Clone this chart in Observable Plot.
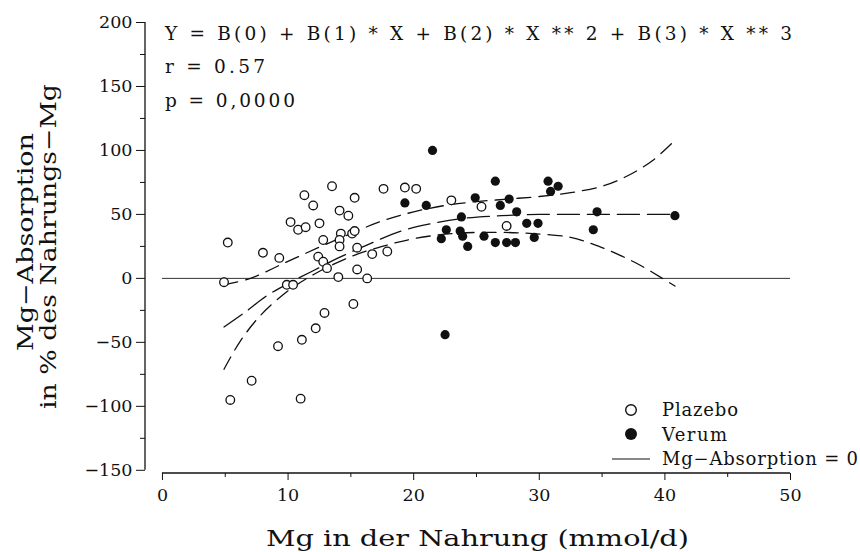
<!DOCTYPE html>
<html>
<head>
<meta charset="utf-8">
<script src="https://cdn.jsdelivr.net/npm/d3@7"></script>
<script src="https://cdn.jsdelivr.net/npm/@observablehq/plot@0.6"></script>
<style>
  html, body { margin: 0; padding: 0; background: #fff; }
  #chart { width: 860px; height: 552px; }
</style>
</head>
<body>
<div id="chart"></div>
<script>
// ---- Data ----
const plazeboX = [4.9, 5.2, 5.4, 7.1, 8.0, 9.2, 9.3, 9.9, 10.4, 10.2, 10.8, 11.4, 11.3, 11.0, 11.1, 12.0, 12.2, 12.5, 12.4, 12.8, 13.1, 12.8, 12.9, 13.5, 14.1, 14.2, 14.1, 14.1, 14.0, 14.8, 15.1, 15.3, 15.3, 15.5, 15.5, 15.2, 16.3, 16.7, 17.9, 17.6, 19.3, 20.2, 23.0, 25.4, 27.4];
const plazeboY = [-3, 28, -95, -80, 20, -53, 16, -5, -5, 44, 38, 40, 65, -94, -48, 57, -39, 43, 17, 13, 8, 30, -27, 72, 53, 35, 30, 25, 1, 49, 35, 37, 63, 24, 7, -20, 0, 19, 21, 70, 71, 70, 61, 56, 41];

const verumX = [19.3, 21.0, 21.5, 22.2, 22.6, 22.5, 23.7, 23.8, 23.9, 24.3, 24.9, 25.6, 26.5, 26.5, 26.9, 27.4, 27.6, 28.1, 28.2, 29.0, 29.6, 29.9, 30.7, 30.9, 31.5, 34.3, 34.6, 40.8];
const verumY = [59, 57, 100, 31, 38, -44, 37, 48, 33, 25, 63, 33, 76, 28, 57, 28, 62, 28, 52, 43, 32, 43, 76, 68, 72, 38, 52, 49];

// cubic fit and its confidence band
const fitX = [4.9, 6.5, 8.4, 10.2, 12.0, 14.0, 16.5, 19.0, 21.5, 24.0, 27.0, 30.0, 33.0, 36.0, 39.0, 40.8];
const fitY = [-38, -27, -13, -3, 6, 16, 27, 37, 43, 47, 49, 50, 50, 50, 50, 50];
const upperX = [4.9, 7.0, 9.7, 12.4, 15.0, 17.5, 20.0, 22.5, 25.0, 27.5, 30.0, 32.5, 35.0, 37.0, 39.0, 40.8];
const upperY = [-5, 0, 12, 24, 35, 45, 52, 57, 60, 62, 64, 67, 72, 80, 92, 108];
const lowerX = [4.9, 6.2, 7.8, 9.7, 11.0, 12.4, 15.0, 17.5, 20.0, 23.0, 26.5, 29.5, 32.5, 35.0, 37.7, 39.8, 40.8];
const lowerY = [-71, -49, -29, -12, -3, 5, 17, 25, 31, 35, 36, 35, 32, 24, 12, 0, -6];

const xMajorTicks = [0, 10, 20, 30, 40, 50];
const xMinorTicks = [5, 15, 25, 35, 45];
const yMajorTicks = [-150, -100, -50, 0, 50, 100, 150, 200];
const yMinorTicks = [-125, -75, -25, 25, 75, 125, 175];

const formulaLines = ["Y = B(0) + B(1) * X + B(2) * X ** 2 + B(3) * X ** 3", "r = 0.57", "p = 0,0000"];
const legendLabels = ["Plazebo", "Verum", "Mg\u2212Absorption = 0"];
const xTitle = "Mg in der Nahrung (mmol/d)";
const yTitleLines = ["Mg\u2212Absorption", "in % des Nahrungs\u2212Mg"];

// ---- Build tables ----
const plazebo = plazeboX.map((x, i) => ({x, y: plazeboY[i]}));
const verum = verumX.map((x, i) => ({x, y: verumY[i]}));
const fit = fitX.map((x, i) => ({x, y: fitY[i]}));
const upper = upperX.map((x, i) => ({x, y: upperY[i]}));
const lower = lowerX.map((x, i) => ({x, y: lowerY[i]}));

const xLo = -1.35, xHi = 50, yLo = -152.5, yHi = 200;
const FONT = "DejaVu Serif";
const INK = "#111";

const chart = Plot.plot({
  width: 860,
  height: 552,
  marginLeft: 145,
  marginRight: 70,
  marginTop: 22,
  marginBottom: 79,
  x: {domain: [xLo, xHi]},
  y: {domain: [yLo, yHi]},
  style: {fontFamily: FONT, background: "#fff", color: INK},
  marks: [
    Plot.axisY({ticks: yMajorTicks, tickSize: 9, tickPadding: 4, fontSize: 17.5, label: null, stroke: INK, tickFormat: d => d < 0 ? "\u2212" + Math.abs(d) : String(d)}),
    Plot.axisY({ticks: yMinorTicks, tickSize: 5, text: null, label: null, stroke: INK}),
    Plot.axisX({ticks: xMajorTicks, tickSize: 7, tickPadding: 8, fontSize: 17.5, label: null, stroke: INK}),
    Plot.axisX({ticks: xMinorTicks, tickSize: 4, text: null, label: null, stroke: INK}),
    Plot.ruleY([0], {x1: 0, x2: 50, stroke: "#333", strokeWidth: 1}),
    Plot.line(upper, {x: "x", y: "y", stroke: INK, strokeWidth: 1.3, strokeDasharray: "14,8", curve: "catmull-rom"}),
    Plot.line(lower, {x: "x", y: "y", stroke: INK, strokeWidth: 1.3, strokeDasharray: "14,8", curve: "catmull-rom"}),
    Plot.line(fit, {x: "x", y: "y", stroke: INK, strokeWidth: 1.3, strokeDasharray: "22,8", curve: "catmull-rom"}),
    Plot.dot(plazebo, {x: "x", y: "y", r: 4.3, stroke: INK, strokeWidth: 1.3, fill: "#fff"}),
    Plot.dot(verum, {x: "x", y: "y", r: 4.6, fill: INK, stroke: "none"})
  ]
});

const svg = d3.select(chart);
const xs = chart.scale("x"), ys = chart.scale("y");
const sx = v => xs.apply(v), sy = v => ys.apply(v);

// axis lines (detached axes, as in the reference)
svg.append("line").attr("x1", sx(xLo)).attr("x2", sx(xLo)).attr("y1", sy(-150)).attr("y2", sy(200))
  .attr("stroke", INK).attr("stroke-width", 1.3);
svg.append("line").attr("x1", sx(0)).attr("x2", sx(50)).attr("y1", sy(yLo)).attr("y2", sy(yLo))
  .attr("stroke", INK).attr("stroke-width", 1.3);

// formula block
const f = svg.append("g").attr("font-family", FONT).attr("fill", INK).attr("font-size", 18.5).attr("text-anchor", "start");
const formulaWidths = [627, 100, 130];
formulaLines.forEach((t, i) => {
  f.append("text").attr("x", 165).attr("y", 40 + i * 33.3).attr("textLength", formulaWidths[i]).attr("lengthAdjust", "spacing").text(t);
});

// legend
const lg = svg.append("g").attr("font-family", FONT).attr("fill", INK).attr("font-size", 18).attr("text-anchor", "start");
lg.append("circle").attr("cx", 631).attr("cy", 410).attr("r", 5.3).attr("fill", "#fff").attr("stroke", INK).attr("stroke-width", 1.4);
lg.append("circle").attr("cx", 631).attr("cy", 434).attr("r", 6).attr("fill", INK);
lg.append("line").attr("x1", 612).attr("x2", 650).attr("y1", 459).attr("y2", 459).attr("stroke", INK).attr("stroke-width", 1.2);
const legendWidths = [76, 65, 196];
legendLabels.forEach((t, i) => {
  lg.append("text").attr("x", 662).attr("y", 416 + i * 24.5).attr("textLength", legendWidths[i]).attr("lengthAdjust", "spacing").text(t);
});

// axis titles
svg.append("text").attr("x", 266).attr("y", 546).attr("text-anchor", "start")
  .attr("textLength", 423).attr("lengthAdjust", "spacingAndGlyphs")
  .attr("font-family", FONT).attr("font-size", 23).attr("fill", INK).text(xTitle);
const yt = svg.append("g").attr("transform", "rotate(-90)")
  .attr("font-family", FONT).attr("font-size", 22).attr("fill", INK).attr("text-anchor", "start");
yt.append("text").attr("x", -351).attr("y", 33).attr("textLength", 218).attr("lengthAdjust", "spacingAndGlyphs").text(yTitleLines[0]);
yt.append("text").attr("x", -409).attr("y", 56).attr("textLength", 325).attr("lengthAdjust", "spacingAndGlyphs").text(yTitleLines[1]);

document.getElementById("chart").appendChild(chart);
</script>
</body>
</html>
